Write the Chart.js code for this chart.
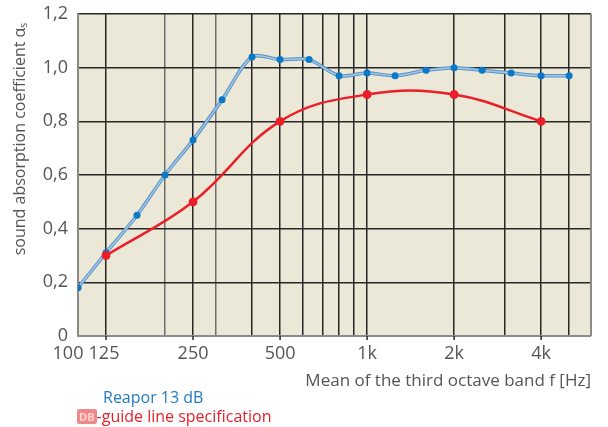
<!DOCTYPE html>
<html>
<head>
<meta charset="utf-8">
<script src="https://cdn.jsdelivr.net/npm/chart.js@4.4.1/dist/chart.umd.min.js"></script>
<style>
  body { margin: 0; background: #fff; }
  #wrap { position: relative; width: 608px; height: 427px; }
  .leg { position: absolute; font-family: "Open Sans", sans-serif; font-size: 16px; white-space: nowrap; }
  #leg1 { left: 103px; top: 386px; color: #1f7bc4; }
  #leg2 { left: 77px; top: 405px; color: #e8202a; }
  .db { display: inline-block; background: #f08a8a; color: #fbd4d4; font-size: 11px; font-weight: bold; padding: 0 2px; border-radius: 2px; line-height: 15px; vertical-align: 1px; }
</style>
</head>
<body>
<div id="wrap">
  <canvas id="chart" width="608" height="427"></canvas>
  <div class="leg" id="leg1">Reapor 13 dB</div>
  <div class="leg" id="leg2"><span class="db">DB</span>-guide line specification</div>
</div>
<script>
// third octave band centre frequencies, Hz
const freqs = [100, 125, 160, 200, 250, 315, 400, 500, 630, 800, 1000, 1250, 1600, 2000, 2500, 3150, 4000, 5000];
const reapor = [0.18, 0.31, 0.45, 0.60, 0.73, 0.88, 1.04, 1.03, 1.03, 0.97, 0.98, 0.97, 0.99, 1.00, 0.99, 0.98, 0.97, 0.97];

// DB guide line
const guideFreqs = [125, 250, 500, 1000, 2000, 4000];
const guideValues = [0.30, 0.50, 0.80, 0.90, 0.90, 0.80];

const gridFreqs = [100, 125, 200, 250, 300, 400, 500, 600, 700, 800, 900, 1000, 2000, 3000, 4000, 5000];
const lightGrid = [200, 300];
const xLabels = [[100, '100'], [125, '125'], [250, '250'], [500, '500'], [1000, '1k'], [2000, '2k'], [4000, '4k']];
const yTicks = [0, 0.2, 0.4, 0.6, 0.8, 1.0, 1.2];

const toPoints = (xs, ys) => xs.map((x, i) => ({ x: x, y: ys[i] }));

const plotPlugin = {
    id: 'plotExtras',
    beforeDraw(chart) {
        const a = chart.chartArea, c = chart.ctx;
        c.save();
        c.fillStyle = '#ece8d7';
        c.fillRect(a.left, a.top, a.right - a.left, a.bottom - a.top);
        c.restore();
    },
    afterDraw(chart) {
        const a = chart.chartArea, c = chart.ctx, xs = chart.scales.x;
        c.save();
        c.strokeStyle = '#8a8a8a';
        c.lineWidth = 2;
        c.beginPath();
        c.moveTo(a.right, a.top);
        c.lineTo(a.right, a.bottom);
        c.stroke();
        // small tick marks under the axis
        c.strokeStyle = '#262626';
        c.lineWidth = 1.5;
        xLabels.forEach(([v]) => {
            if (v === 100) return;
            const px = xs.getPixelForValue(v);
            c.beginPath();
            c.moveTo(px, a.bottom);
            c.lineTo(px, a.bottom + 4);
            c.stroke();
        });
        c.fillStyle = '#555';
        c.font = '18px "Open Sans", sans-serif';
        c.textAlign = 'center';
        c.textBaseline = 'middle';
        xLabels.forEach(([v, t]) => {
            let px = xs.getPixelForValue(v);
            if (v === 100) px -= 10;
            if (v === 125) px -= 2;
            c.fillText(t, px, a.bottom + 18);
        });
        c.textAlign = 'right';
        c.font = '17px "Open Sans", sans-serif';
        c.fillText('Mean of the third octave band f [Hz]', a.right, a.bottom + 45);
        // y title
        c.translate(20, 139);
        c.rotate(-Math.PI / 2);
        c.textAlign = 'center';
        c.font = '16px "Open Sans", sans-serif';
        c.fillText('sound absorption coefficient \u03b1\u209b', 0, 0);
        c.restore();
    }
};

new Chart(document.getElementById('chart').getContext('2d'), {
    type: 'line',
    data: {
        datasets: [{
            label: 'DB-guide line specification',
            data: toPoints(guideFreqs, guideValues),
            borderColor: '#ea1f29',
            backgroundColor: '#ea1f29',
            borderWidth: 2.5,
            pointRadius: 3.2,
            tension: 0.4,
            fill: false
        }, {
            label: 'Reapor 13 dB',
            data: toPoints(freqs, reapor),
            borderColor: '#a8c8e6',
            backgroundColor: '#0a78c8',
            borderWidth: 1.5,
            pointRadius: 3.5,
            pointBorderWidth: 0,
            tension: 0.3,
            fill: false
        }, {
            label: 'Reapor 13 dB outline',
            data: toPoints(freqs, reapor),
            borderColor: '#5592c8',
            borderWidth: 3.5,
            pointRadius: 0,
            tension: 0.3,
            fill: false
        }]
    },
    options: {
        responsive: false,
        animation: false,
        layout: { padding: { top: 14, right: 17, left: 0, bottom: 0 } },
        plugins: { legend: { display: false }, tooltip: { enabled: false } },
        scales: {
            x: {
                type: 'logarithmic',
                min: 100,
                max: 5950,
                afterBuildTicks: s => { s.ticks = gridFreqs.map(v => ({ value: v })); },
                afterFit: s => { s.height = 91; s.paddingLeft = 0; s.paddingRight = 0; },
                ticks: { display: false },
                grid: {
                    color: ctx => (ctx.tick && lightGrid.includes(ctx.tick.value)) ? '#6e6e6e' : '#262626',
                    lineWidth: ctx => (ctx.tick && ctx.tick.value === 100) ? 0 : 1.5,
                    drawTicks: false
                },
                border: { color: '#8a8a8a', width: 2 }
            },
            y: {
                min: 0,
                max: 1.2,
                afterBuildTicks: s => { s.ticks = yTicks.map(v => ({ value: v })); },
                afterFit: s => { s.width = 78; s.paddingTop = 0; s.paddingBottom = 0; },
                ticks: {
                    color: '#555',
                    font: { family: '"Open Sans", sans-serif', size: 18 },
                    padding: 10,
                    callback: v => v === 0 ? '0' : v.toFixed(1).replace('.', ',')
                },
                grid: {
                    color: '#262626',
                    lineWidth: ctx => (ctx.tick && ctx.tick.value === 0) ? 0 : 1.5,
                    drawTicks: false
                },
                border: { color: '#8a8a8a', width: 2 }
            }
        }
    },
    plugins: [plotPlugin]
});
</script>
</body>
</html>
